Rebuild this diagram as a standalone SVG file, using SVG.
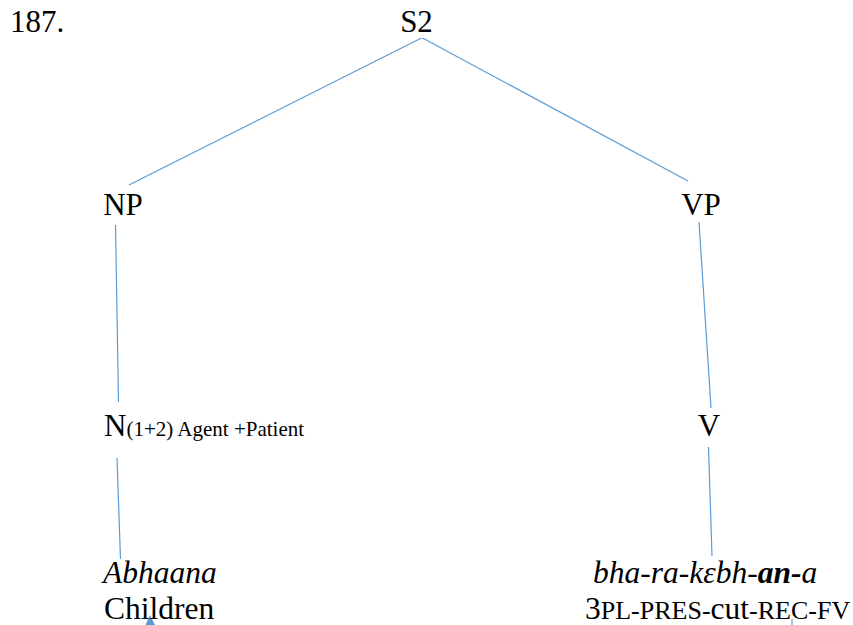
<svg xmlns="http://www.w3.org/2000/svg" width="853" height="625" viewBox="0 0 853 625">
  <style>
    text { font-family: "Liberation Serif", "Times New Roman", serif; fill: #000; }
    .lbl { font-size: 31px; }
    .leaf { font-size: 31.5px; }
    .sub { font-size: 21px; }
    .sc { font-size: 26px; }
    .edge { stroke: #5b9bd5; stroke-width: 1.2; fill: none; }
  </style>
  <rect width="853" height="625" fill="#fff"/>

  <text class="lbl" x="10" y="32">187.</text>

  <g id="connectors">
    <line class="edge" x1="421.5" y1="38" x2="129" y2="185"/>
    <line class="edge" x1="422.5" y1="38" x2="688" y2="181"/>
    <line class="edge" x1="115.5" y1="225" x2="118.5" y2="402"/>
    <line class="edge" x1="117" y1="458" x2="120.5" y2="559"/>
    <line class="edge" x1="699" y1="222" x2="711" y2="408"/>
    <line class="edge" x1="708.5" y1="447" x2="712" y2="556"/>
    <polygon points="150,615 145.5,625 155,625" fill="#5b9bd5"/>
    <line class="edge" x1="792" y1="619" x2="792" y2="625" stroke-width="0.8"/>
  </g>

  <g id="S2">
    <text class="lbl" x="416.5" y="32" text-anchor="middle">S2</text>
  </g>
  <g id="NP">
    <text class="lbl" x="123" y="215" text-anchor="middle">NP</text>
  </g>
  <g id="VP">
    <text class="lbl" x="701" y="215" text-anchor="middle">VP</text>
  </g>
  <g id="N">
    <text class="lbl" x="104" y="436">N<tspan class="sub">(1+2) Agent +Patient</tspan></text>
  </g>
  <g id="V">
    <text class="lbl" x="709" y="436" text-anchor="middle">V</text>
  </g>
  <g id="Abhaana">
    <text class="leaf" x="103" y="583" font-style="italic">Abhaana</text>
    <text class="leaf" x="104" y="619">Children</text>
  </g>
  <g id="bharakebhana">
    <text class="leaf" x="593" y="583" font-style="italic">bha-ra-kɛbh-<tspan font-weight="bold">an-</tspan>a</text>
    <text class="leaf" x="585" y="619">3<tspan class="sc">PL-PRES-</tspan>cut<tspan class="sc">-REC-FV</tspan></text>
  </g>
</svg>
